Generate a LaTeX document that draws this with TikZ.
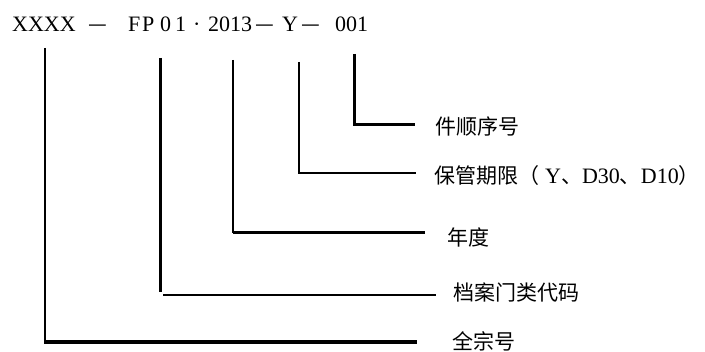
\documentclass[tikz,border=0pt]{standalone}
\usepackage{fontspec}
\setmainfont{Liberation Serif}
\newfontfamily\cjk{Noto Sans CJK SC}
\newcommand{\cj}[1]{{\fontsize{21}{21}\selectfont\cjk #1}}
\begin{document}
\begin{tikzpicture}[x=1pt,y=-1pt,
  hdr/.style={anchor=base west,inner sep=0pt,font=\fontsize{22}{22}\selectfont},
  lbl/.style={anchor=west,inner sep=0pt,font=\fontsize{22}{22}\selectfont},
  thinln/.style={line width=1.6pt},
  thkln/.style={line width=3pt}]
\useasboundingbox (0,0) rectangle (705,352);
% header
\node[hdr] (hx) at (12,32) {XXXX};
\node[hdr] (hd1) at (88,32) {\cj{—}};
\node[hdr] (hf) at (128,32) {F};
\node[hdr] (hp) at (142,32) {P};
\node[hdr] (h0) at (160,32) {0};
\node[hdr] (h1) at (175,32) {1};
\node[hdr] (hdot) at (193,32) {·};
\node[hdr] (hy) at (208,32) {2013};
\node[hdr] (hd2) at (255,32) {\cj{—}};
\node[hdr] (hyy) at (282,32) {Y};
\node[hdr] (hd3) at (301,32) {\cj{—}};
\node[hdr] (hn) at (335,32) {001};
% labels
\node[lbl] (l1) at (435,127) {\cj{件顺序号}};
\node[lbl] (l2) at (434,176) {\cj{保管期限（}\hspace{6pt}Y\cj{、}D30\cj{、}D10\cj{）}};
\node[lbl] (l3) at (447,237) {\cj{年度}};
\node[lbl] (l4) at (453,292) {\cj{档案门类代码}};
\node[lbl] (l5) at (452,341) {\cj{全宗号}};
% line ends
\coordinate (t1) at (354,54);  \coordinate (c1) at (354,125); \coordinate (e1) at (415,125);
\coordinate (t2) at (299,62);  \coordinate (c2) at (299,173); \coordinate (e2) at (416,173);
\coordinate (t3) at (233,60);  \coordinate (c3) at (233,233); \coordinate (e3) at (425,233);
\coordinate (t4) at (160,58);  \coordinate (c4) at (160,292); \coordinate (s4) at (163,295); \coordinate (e4) at (436,295);
\coordinate (t5) at (45,48);   \coordinate (c5) at (45,342);  \coordinate (e5) at (417,342);
% connectors
\draw[thkln,line join=miter] (t1) -- (c1) -- (e1);
\draw[thinln,line join=miter] (t2) -- (c2) -- (e2);
\draw[thinln] (t3) -- (c3);
\draw[thkln] (c3) -- (e3);
\draw[thkln] (t4) -- (c4);
\draw[line width=2pt] (s4) -- (e4);
\draw[thinln] (t5) -- (c5);
\draw[line width=3.5pt] ([xshift=-0.8pt]c5) -- (e5);
\end{tikzpicture}
\end{document}
